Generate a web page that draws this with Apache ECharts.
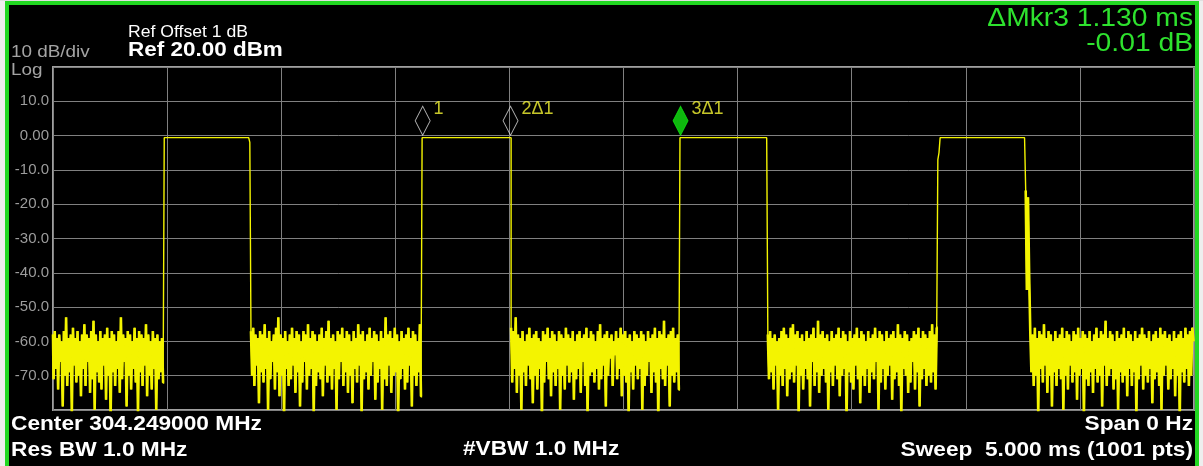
<!DOCTYPE html>
<html lang="en">
<head>
<meta charset="UTF-8">
<title>Zero span pulse</title>
<style>
  html,body{margin:0;padding:0;background:#eeeeee}
  #chart{width:1203px;height:466px}
</style>
<script src="https://cdn.jsdelivr.net/npm/echarts@6.0.0/dist/echarts.min.js"></script>
</head>
<body>
<div id="chart"></div>
<script>
// sweep: 5 ms, 1001 points
const sweepMs = 5;
const sweepPts = 1001;

const yTicks = [20, 10, 0, -10, -20, -30, -40, -50, -60, -70, -80];
const yTickLabels = ['', '10.0', '0.00', '-10.0', '-20.0', '-30.0', '-40.0', '-50.0', '-60.0', '-70.0', ''];

// pulse tops (dBm) and how many sweep points each stays on
const pulseLevel = -0.6;
const pulseLengths = [75, 78, 77, 75];
// edges
const fall1 = [-2];
const rise4 = [-7, -5];
const fall4 = [-16, -45, -18, -40];

// noise floor between the pulses (dBm, one value per sweep point)
const noiseA = [
  -58,-71,-57,-68,-59,-74,-58,-66,-60,-79,
  -57,-70,-53,-73,-59,-69,-58,-81,-56,-67,
  -59,-72,-57,-70,-60,-76,-58,-68,-55,-73,
  -58,-66,-59,-75,-57,-71,-54,-80,-58,-69,
  -60,-72,-57,-74,-59,-67,-58,-77,-56,-70,
  -59,-82,-57,-69,-58,-73,-60,-68,-57,-75,
  -53,-71,-58,-66,-59,-79,-57,-70,-58,-74,
  -60,-68,-56,-72,-59,-81,-57,-69,-58,-73,
  -59,-67,-55,-76,-58,-70,-60,-74,-57,-68,
  -59,-80,-58,-71,-60,-69,-59,-72
];
const noiseB = [
  -57,-70,-56,-73,-58,-67,-59,-78,-57,-69,
  -58,-72,-55,-68,-59,-80,-57,-71,-60,-66,
  -58,-74,-56,-69,-53,-76,-58,-70,-59,-82,
  -57,-68,-60,-73,-58,-71,-56,-67,-59,-75,
  -57,-69,-58,-79,-60,-72,-57,-66,-58,-74,
  -55,-70,-59,-68,-57,-81,-58,-73,-60,-69,
  -58,-71,-56,-76,-59,-67,-57,-72,-54,-70,
  -59,-74,-58,-68,-60,-80,-57,-71,-58,-66,
  -56,-73,-59,-69,-57,-75,-58,-70,-60,-78,
  -57,-68,-59,-72,-55,-67,-58,-81,-57,-71,
  -60,-69,-58,-74,-56,-70,-59,-66,-57,-77,
  -58,-72,-60,-68,-57,-80,-59,-71,-53,-73,
  -58,-67,-57,-75,-59,-70,-56,-69,-58,-82,
  -60,-71,-57,-68,-59,-74,-58,-72,-56,-67,
  -59,-79,-57,-70,-58,-73,-60,-69,-55,-76
];
const noiseC = [
  -56,-72,-57,-68,-53,-75,-58,-70,-59,-80,
  -57,-69,-60,-73,-58,-67,-56,-71,-59,-78,
  -58,-70,-57,-74,-59,-68,-60,-82,-57,-72,
  -58,-66,-56,-71,-59,-76,-57,-69,-58,-73,
  -60,-68,-57,-80,-58,-70,-59,-74,-56,-67,
  -58,-72,-59,-69,-57,-77,-60,-71,-58,-68,
  -57,-75,-59,-66,-58,-73,-56,-81,-59,-70,
  -57,-69,-58,-72,-60,-68,-57,-74,-55,-71,
  -59,-67,-58,-79,-57,-70,-59,-65,-58,-73,
  -60,-64,-57,-71,-59,-68,-56,-76,-58,-70,
  -57,-72,-59,-81,-58,-69,-60,-74,-57,-67,
  -58,-71,-59,-68,-57,-80,-58,-73,-60,-70,
  -57,-66,-59,-75,-58,-69,-56,-72,-59,-82,
  -57,-68,-58,-71,-54,-73,-59,-67,-58,-79,
  -57,-70,-56,-72,-59,-69,-58,-74
];
const noiseD = [
  -58,-71,-57,-69,-59,-74,-58,-67,-60,-80,
  -59,-70,-57,-73,-56,-68,-58,-76,-59,-71,
  -56,-69,-55,-72,-58,-67,-57,-81,-59,-70,
  -58,-74,-60,-68,-57,-71,-59,-79,-58,-66,
  -56,-73,-59,-69,-54,-75,-58,-70,-57,-68,
  -59,-72,-58,-80,-60,-69,-57,-73,-59,-67,
  -58,-71,-56,-76,-59,-70,-57,-68,-58,-82,
  -60,-69,-57,-72,-59,-74,-58,-67,-56,-71,
  -59,-78,-57,-70,-58,-73,-60,-68,-57,-75,
  -59,-69,-58,-71,-56,-66,-59,-80,-57,-72,
  -58,-68,-60,-74,-57,-70,-59,-67,-58,-77,
  -57,-71,-59,-69,-55,-73,-58,-81,-59,-68,
  -57,-70,-58,-75,-60,-72,-59,-66,-57,-74,
  -58,-69,-56,-79,-59,-71,-57,-68,-58,-73,
  -59,-70,-57,-72,-55,-69,-58,-74,-56
];
const noiseE = [
  -57,-69,-58,-73,-56,-70,-59,-81,-57,-68,
  -58,-72,-55,-67,-59,-75,-57,-70,-58,-79,
  -60,-69,-57,-73,-59,-68,-58,-71,-56,-80,
  -59,-70,-57,-74,-58,-67,-60,-72,-57,-69,
  -58,-77,-56,-70,-59,-68,-57,-82,-58,-71,
  -59,-73,-57,-69,-60,-75,-58,-68,-56,-72,
  -59,-70,-57,-79,-58,-67,-54,-73,-59,-70,
  -57,-68,-58,-74,-60,-71,-57,-80,-59,-69,
  -58,-72,-56,-70,-59,-76,-57,-68,-58,-73,
  -60,-69,-57,-81,-59,-71,-58,-67,-56,-74,
  -58,-70,-59,-72,-57,-68,-60,-78,-58,-71,
  -57,-69,-59,-73,-56,-80,-58,-70,-57,-67,
  -59,-74,-58,-71,-60,-68,-57,-76,-59,-70,
  -58,-82,-57,-69,-59,-72,-56,-68,-58,-73,
  -57,-70,-56,-60
];

// markers
const markerNames = ['1', '2\u03941', '3\u03941'];
const markerTimes = [1.62, 2.005, 2.75];
const markerLevels = [-0.6, -0.6, -0.6];

function pulseTop(n){ return new Array(n).fill(pulseLevel); }

// trace pieces in sweep order; noise pieces get drawn with a heavier pen
const pieces = [
  [noiseA, 1], [pulseTop(pulseLengths[0]), 0], [fall1, 0],
  [noiseB, 1], [pulseTop(pulseLengths[1]), 0],
  [noiseC, 1], [pulseTop(pulseLengths[2]), 0],
  [noiseD, 1], [rise4, 0], [pulseTop(pulseLengths[3]), 0], [fall4, 1],
  [noiseE, 1]
];
let trace = [], isNoise = [];
pieces.forEach(p => p[0].forEach(v => { trace.push(v); isNoise.push(p[1]); }));
trace = trace.slice(0, sweepPts);

const step = sweepMs / (sweepPts - 1);
let traceData = trace.map((v, i) => [+(i * step).toFixed(4), v]);
let noiseData = trace.map((v, i) => [+(i * step).toFixed(4), isNoise[i] ? v : null]);

const FONT = 'Arial, "Liberation Sans", sans-serif';

function txt(text, x, y, size, color, opt){
  opt = opt || {};
  return {
    type: 'text', x: x, y: y, scaleX: opt.sx || 1.08, z: 10,
    style: {
      text: text, fill: color,
      font: (opt.bold ? 'bold ' : '') + size + 'px ' + FONT,
      align: opt.align || 'left', textAlign: opt.align || 'left',
      verticalAlign: 'middle', textVerticalAlign: 'middle'
    }
  };
}

let chart = echarts.init(document.getElementById('chart'));

let option = {
  backgroundColor: '#000',
  animation: false,
  grid: {
    left: 53, top: 67, width: 1141, height: 343,
    show: true, borderColor: '#a0a0a0', borderWidth: 2,
    backgroundColor: 'transparent'
  },
  xAxis: {
    type: 'value', min: 0, max: sweepMs, interval: 0.5,
    axisLine: {show: false}, axisTick: {show: false}, axisLabel: {show: false},
    splitLine: {show: true, lineStyle: {color: '#808080', width: 1}}
  },
  yAxis: {
    type: 'value', min: -80, max: 20, interval: 10,
    axisLine: {show: false}, axisTick: {show: false},
    axisLabel: {
      color: '#9c9c9c', fontSize: 15, fontFamily: FONT, margin: 4,
      formatter: function(v){
        let k = yTicks.indexOf(v);
        return k < 0 ? '' : yTickLabels[k];
      }
    },
    splitLine: {show: true, lineStyle: {color: '#808080', width: 1}}
  },
  series: [{
    type: 'line',
    data: noiseData,
    step: 'middle',
    showSymbol: false,
    symbol: 'none',
    clip: true,
    connectNulls: false,
    lineStyle: {color: '#f4f400', width: 2.6},
    z: 3
  }, {
    type: 'line',
    data: traceData,
    step: 'middle',
    showSymbol: false,
    symbol: 'none',
    clip: true,
    lineStyle: {color: '#f4f400', width: 1.4},
    z: 4
  }, {
    type: 'scatter',
    symbol: 'diamond',
    symbolSize: [15, 29],
    symbolOffset: [0, -17],
    z: 5,
    data: markerNames.map((n, i) => ({
      name: n,
      value: [markerTimes[i], markerLevels[i]],
      itemStyle: i === 2
        ? {color: '#11e611', borderColor: '#11e611', borderWidth: 1}
        : {color: 'rgba(0,0,0,0)', borderColor: '#dcdcdc', borderWidth: 1}
    })),
    label: {
      show: true, position: 'right', distance: 3, offset: [0, -12],
      formatter: '{b}', color: '#f6f633', fontSize: 18, fontFamily: FONT
    }
  }],
  graphic: [
    // outer frame
    {type: 'rect', shape: {x: 0, y: 0, width: 5, height: 466}, style: {fill: '#eeeeee'}, z: 20},
    {type: 'rect', shape: {x: 1199, y: 0, width: 4, height: 466}, style: {fill: '#eeeeee'}, z: 20},
    {type: 'rect', shape: {x: 0, y: 0, width: 1203, height: 1}, style: {fill: '#e0e0e0'}, z: 20},
    {type: 'rect', shape: {x: 7, y: 3, width: 1190, height: 480}, style: {fill: null, stroke: '#22d822', lineWidth: 4}, z: 21},
    // header
    txt('Ref Offset 1 dB', 128, 33, 16, '#ffffff', {sx: 1.1}),
    txt('Ref 20.00 dBm', 128, 50, 21, '#ffffff', {bold: true, sx: 1.07}),
    txt('10 dB/div', 11, 53, 16, '#a4a4a4', {sx: 1.18}),
    txt('Log', 11, 71, 16, '#a4a4a4', {sx: 1.18}),
    txt('\u0394Mkr3 1.130 ms', 1193, 19, 25, '#2ee22e', {align: 'right', sx: 1.13}),
    txt('-0.01 dB', 1193, 44, 25, '#2ee22e', {align: 'right', sx: 1.13}),
    // footer
    txt('Center 304.249000 MHz', 11, 424, 21, '#ffffff', {bold: true}),
    txt('Res BW 1.0 MHz', 11, 450, 21, '#ffffff', {bold: true}),
    txt('#VBW 1.0 MHz', 463, 449, 21, '#ffffff', {bold: true}),
    txt('Span 0 Hz', 1193, 424, 21, '#ffffff', {bold: true, align: 'right'}),
    txt('Sweep  5.000 ms (1001 pts)', 1193, 450, 21, '#ffffff', {bold: true, align: 'right'})
  ]
};

chart.setOption(option);
</script>
</body>
</html>
